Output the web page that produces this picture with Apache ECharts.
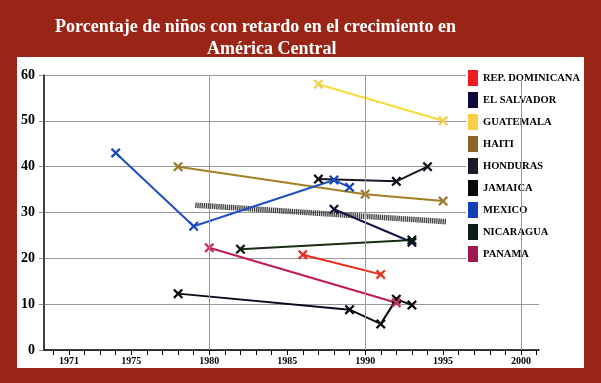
<!DOCTYPE html>
<html><head><meta charset="utf-8">
<script src="https://cdn.jsdelivr.net/npm/echarts@6/dist/echarts.min.js"></script>
<style>html,body{margin:0;padding:0;background:#9A2416}#c{width:601px;height:383px}</style>
</head><body><div id="c"></div>
<script>
const titleLine1 = 'Porcentaje de niños con retardo en el crecimiento en';
const titleLine2 = 'América Central';
const countries = ['REP. DOMINICANA','EL SALVADOR','GUATEMALA','HAITI','HONDURAS','JAMAICA','MEXICO','NICARAGUA','PANAMA'];
const repDomYears = [1986, 1991];                 const repDomValues = [20.8, 16.5];
const elSalvadorYears = [1988, 1993];             const elSalvadorValues = [30.7, 23.5];
const guatemalaYears = [1987, 1995];              const guatemalaValues = [58, 50];
const haitiYears = [1978, 1990, 1995];            const haitiValues = [40, 34, 32.5];
const hondurasYears = [1987, 1992, 1994];         const hondurasValues = [37.3, 36.8, 40];
const jamaicaYears = [1978, 1989, 1991, 1992, 1993]; const jamaicaValues = [12.3, 8.8, 5.7, 11.1, 9.8];
const mexicoYears = [1974, 1979, 1988, 1989];     const mexicoValues = [43, 27, 37.1, 35.5];
const nicaraguaYears = [1982, 1993];              const nicaraguaValues = [22, 24];
const panamaYears = [1980, 1992];                 const panamaValues = [22.3, 10.3];
const trendYears = [1979.1, 1995.2];              const trendValues = [31.6, 28];
const yearTicks = [1970,1971,1972,1973,1974,1975,1976,1977,1978,1979,1980,1981,1982,1983,1984,1985,1986,1987,1988,1989,1990,1991,1992,1993,1994,1995,1996,1997,1998,1999,2000,2001];
const yearLabels = [1971, 1975, 1980, 1985, 1990, 1995, 2000];
const gridYears = [1980, 1990, 2000];

const pairs = (xs, ys) => xs.map((x, i) => [x, ys[i]]);
const X = 'path://M0,1.6 L1.6,0 L5,3.4 L8.4,0 L10,1.6 L6.6,5 L10,8.4 L8.4,10 L5,6.6 L1.6,10 L0,8.4 L3.4,5 Z';
const serif = 'Liberation Serif';

const styles = {
  'REP. DOMINICANA': {legend:'#EE1C1C', line:'#F02810', mark:'#E83020', xs:repDomYears, ys:repDomValues},
  'EL SALVADOR': {legend:'#0A0A3A', line:'#14144a', mark:'#101030', xs:elSalvadorYears, ys:elSalvadorValues},
  'GUATEMALA': {legend:'#F8CF45', line:'#F8DA38', mark:'#F2CC50', xs:guatemalaYears, ys:guatemalaValues},
  'HAITI': {legend:'#8B6425', line:'#A47E22', mark:'#9C7A34', xs:haitiYears, ys:haitiValues},
  'HONDURAS': {legend:'#1A1A28', line:'#1a1424', mark:'#111118', xs:hondurasYears, ys:hondurasValues},
  'JAMAICA': {legend:'#0A0A0A', line:'#0a0a1a', mark:'#0a0a0a', xs:jamaicaYears, ys:jamaicaValues},
  'MEXICO': {legend:'#1040B8', line:'#1E50C4', mark:'#1A48B8', xs:mexicoYears, ys:mexicoValues},
  'NICARAGUA': {legend:'#0A1E1A', line:'#1a2a14', mark:'#0a1a14', xs:nicaraguaYears, ys:nicaraguaValues},
  'PANAMA': {legend:'#A01850', line:'#C0185A', mark:'#C03060', xs:panamaYears, ys:panamaValues}
};

const series = [{
  name: 'tendencia', type: 'line', z: 1,
  data: pairs(trendYears, trendValues),
  symbol: 'none',
  lineStyle: {color: '#444', width: 5.5, type: [1.4, 0.7], cap: 'butt'},
  markLine: {
    silent: true, symbol: ['none','none'], label: {show: false},
    lineStyle: {color: '#999', width: 1, type: 'solid'},
    data: gridYears.map(y => ({xAxis: y}))
  }
}];
countries.forEach(n => {
  const s = styles[n];
  series.push({
    name: n, type: 'line', z: 3,
    data: pairs(s.xs, s.ys),
    symbol: X, symbolSize: 10,
    itemStyle: {color: s.mark},
    lineStyle: {color: s.line, width: 2},
    emphasis: {disabled: true}
  });
});

const chart = echarts.init(document.getElementById('c'), null, {renderer: 'canvas'});
chart.setOption({
  backgroundColor: '#9A2416',
  animation: false,
  graphic: {elements: [{type: 'rect', z: -100, shape: {x: 17, y: 57, width: 567, height: 311}, style: {fill: '#fff'}}]},
  title: [
    {text: titleLine1, left: 50, top: 13, textStyle: {color: '#fff', fontFamily: serif, fontWeight: 'bold', fontSize: 18}},
    {text: titleLine2, left: 202, top: 35, textStyle: {color: '#fff', fontFamily: serif, fontWeight: 'bold', fontSize: 18}}
  ],
  legend: {
    orient: 'vertical', left: 466, top: 66, padding: [4, 2, 0, 2],
    backgroundColor: '#fff', itemWidth: 10, itemHeight: 16, itemGap: 6,
    selectedMode: false, icon: 'rect',
    textStyle: {fontFamily: serif, fontWeight: 'bold', fontSize: 10.5, color: '#000'},
    data: countries.map(n => ({name: n, itemStyle: {color: styles[n].legend}}))
  },
  grid: {left: 44, right: 62, top: 75, bottom: 33, containLabel: false},
  xAxis: {
    type: 'value', min: 1969.4, max: 2001.15,
    axisLine: {lineStyle: {color: '#000', width: 1.5}},
    axisTick: {show: true, length: 5, customValues: yearTicks, lineStyle: {color: '#000'}},
    axisLabel: {customValues: yearLabels, formatter: v => String(v), margin: 6, color: '#000', fontFamily: serif, fontWeight: 'bold', fontSize: 10},
    splitLine: {show: false}
  },
  yAxis: {
    type: 'value', min: 0, max: 60, interval: 10,
    axisLine: {show: true, lineStyle: {color: '#000', width: 1.5}},
    axisTick: {show: true, length: 5, lineStyle: {color: '#888'}},
    axisLabel: {margin: 9, color: '#000', fontFamily: serif, fontWeight: 'bold', fontSize: 14},
    splitLine: {lineStyle: {color: '#999', width: 1}}
  },
  series: series
});
</script></body></html>
